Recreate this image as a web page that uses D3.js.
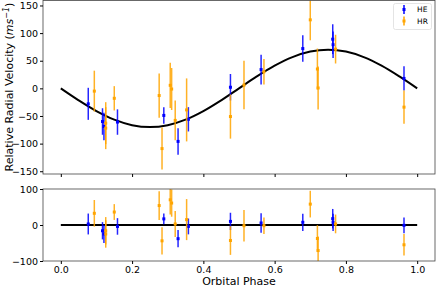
<!DOCTYPE html>
<html>
<head>
<meta charset="utf-8">
<script src="https://cdn.jsdelivr.net/npm/d3@7"></script>
<style>
  body { margin: 0; background: #fff; }
  text { font-family: "DejaVu Sans", sans-serif; fill: #000; }
</style>
</head>
<body>
<div id="chart"></div>
<script>
// HE points (blue)
const hePhase = [0.077, 0.117, 0.121, 0.159, 0.289, 0.329, 0.358, 0.476, 0.562, 0.679, 0.763, 0.764, 0.963];
const heRV    = [-28, -60, -69, -61, -49, -96, -56, 2, 34, 72, 89, 79, 18];
const heErr   = [29, 24, 25, 23, 15, 24, 22, 24, 27, 24, 27, 24, 22];
const heResid = [2.8, -16, -25, -4, 17, -38, -4, 10, 5.6, 7.5, 17.6, 7.5, -1];

// HR points (orange)
const hrPhase = [0.094, 0.126, 0.126, 0.150, 0.276, 0.284, 0.307, 0.311, 0.321, 0.353, 0.476, 0.514, 0.570, 0.700, 0.720, 0.722, 0.771, 0.963];
const hrRV    = [-5, -63, -72, -18, -13, -109, 5.5, -1.2, -58, -39, -51, 6, 30, 124, 35, 0.7, 71, -34];
const hrErr   = [37, 38, 38, 22, 40, 38, 41, 38, 36, 57, 40, 44, 23, 37, 37, 39, 26, 30];
const hrResid = [32.5, -16, -25, 36, 54, -44, 70, 61, 3, 15, -43, -2, -2, 58, -37.5, -71, 3, -55];

// model curve
const modelPhase = [0, 0.05, 0.1, 0.15, 0.2, 0.25, 0.3, 0.35, 0.4, 0.45, 0.5, 0.55, 0.6, 0.65, 0.7, 0.75, 0.8, 0.85, 0.9, 0.95, 1.0];
const modelRV    = [0, -21.6, -41.1, -56.6, -66.6, -70, -66.6, -56.6, -41.1, -21.6, 0, 21.6, 41.1, 56.6, 66.6, 70, 66.6, 56.6, 41.1, 21.6, 0];

const xTicks = [0, 0.2, 0.4, 0.6, 0.8, 1.0];
const topTicks = [-150, -100, -50, 0, 50, 100, 150];
const botTicks = [-100, 0, 100];

const width = 436, height = 291;
const HE_COLOR = "#0000ff", HR_COLOR = "#ffa500";

const svg = d3.select("#chart").append("svg")
    .attr("width", width)
    .attr("height", height);

const x = d3.scaleLinear().domain([-0.05, 1.05]).range([43, 435]);
const yTop = d3.scaleLinear().domain([-155, 159]).range([174, 0.5]);
const yBot = d3.scaleLinear().domain([-100, 100]).range([261, 189]);

const defs = svg.append("defs");
defs.append("clipPath").attr("id", "clipTop")
    .append("rect").attr("x", 43).attr("y", 0.5).attr("width", 392).attr("height", 173.5);
defs.append("clipPath").attr("id", "clipBot")
    .append("rect").attr("x", 43).attr("y", 189).attr("width", 392).attr("height", 72);

function drawPanel(y, clipId, values, showXLabels, ticks) {
    const g = svg.append("g");
    const plot = g.append("g").attr("clip-path", `url(#${clipId})`);

    // model / zero line
    const line = d3.line()
        .x(d => x(d[0]))
        .y(d => y(d[1]))
        .curve(d3.curveCatmullRom);
    plot.append("path")
        .datum(d3.zip(modelPhase, values.model))
        .attr("d", line)
        .attr("fill", "none")
        .attr("stroke", "black")
        .attr("stroke-width", 2);

    const sets = [
        { phase: hePhase, val: values.he, err: heErr, color: HE_COLOR },
        { phase: hrPhase, val: values.hr, err: hrErr, color: HR_COLOR }
    ];
    sets.forEach(s => {
        s.phase.forEach((p, i) => {
            plot.append("line")
                .attr("x1", x(p)).attr("x2", x(p))
                .attr("y1", y(s.val[i] - s.err[i]))
                .attr("y2", y(s.val[i] + s.err[i]))
                .attr("stroke", s.color)
                .attr("stroke-width", 1.5)
                .attr("opacity", 0.85);
            plot.append("rect")
                .attr("x", x(p) - 1.5).attr("y", y(s.val[i]) - 1.5)
                .attr("width", 3).attr("height", 3)
                .attr("fill", s.color);
        });
    });

    // frame
    const [y0, y1] = y.range();
    g.append("rect")
        .attr("x", 43).attr("y", y1)
        .attr("width", 392).attr("height", y0 - y1)
        .attr("fill", "none")
        .attr("stroke", "#444")
        .attr("stroke-width", 0.8);

    const xAxis = d3.axisBottom(x).tickValues(xTicks).tickSize(3).tickPadding(2)
        .tickFormat(showXLabels ? d3.format(".1f") : "");
    g.append("g").attr("transform", `translate(0,${y0})`).call(xAxis)
        .call(a => a.select(".domain").remove())
        .call(a => a.selectAll("text").attr("font-size", 9.5).attr("font-family", "DejaVu Sans"));

    const yAxis = d3.axisLeft(y).tickValues(ticks).tickSize(3).tickPadding(2).tickFormat(d3.format("d"));
    g.append("g").attr("transform", "translate(43,0)").call(yAxis)
        .call(a => a.select(".domain").remove())
        .call(a => a.selectAll("text").attr("font-size", 9.5).attr("font-family", "DejaVu Sans"));
}

drawPanel(yTop, "clipTop", { model: modelRV, he: heRV, hr: hrRV }, false, topTicks);
drawPanel(yBot, "clipBot", { model: modelPhase.map(() => 0), he: heResid, hr: hrResid }, true, botTicks);

// axis labels
svg.append("text")
    .attr("x", 239).attr("y", 285)
    .attr("text-anchor", "middle")
    .attr("font-size", 11)
    .text("Orbital Phase");

const yl = svg.append("text")
    .attr("transform", "translate(13,87) rotate(-90)")
    .attr("text-anchor", "middle")
    .attr("font-size", 11);
yl.append("tspan").text("Relative Radial Velocity (");
yl.append("tspan").attr("font-style", "italic").text("ms");
yl.append("tspan").attr("font-size", 8).attr("dy", -4).attr("font-style", "italic").text("\u22121");
yl.append("tspan").attr("dy", 4).text(")");

// legend
const leg = svg.append("g");
leg.append("rect")
    .attr("x", 393.5).attr("y", 3.5).attr("width", 38).attr("height", 26)
    .attr("rx", 2)
    .attr("fill", "white").attr("fill-opacity", 0.8)
    .attr("stroke", "#ddd").attr("stroke-width", 0.8);
[["HE", HE_COLOR, 9.5], ["HR", HR_COLOR, 21]].forEach(([name, color, cy]) => {
    leg.append("line")
        .attr("x1", 404).attr("x2", 404)
        .attr("y1", cy - 4.5).attr("y2", cy + 4.5)
        .attr("stroke", color).attr("stroke-width", 1.5);
    leg.append("rect")
        .attr("x", 402.5).attr("y", cy - 1.5).attr("width", 3).attr("height", 3)
        .attr("fill", color);
    leg.append("text")
        .attr("x", 417).attr("y", cy + 2.7)
        .attr("font-size", 7.5)
        .text(name);
});
</script>
</body>
</html>
